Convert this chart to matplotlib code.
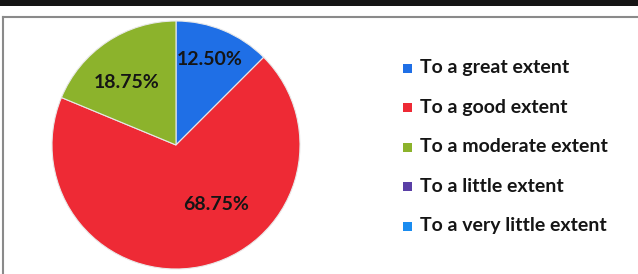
import matplotlib.pyplot as plt
from matplotlib.patches import Rectangle
from matplotlib.lines import Line2D

categories = ['To a great extent', 'To a good extent', 'To a moderate extent',
              'To a little extent', 'To a very little extent']
shares = [12.50, 68.75, 18.75, 0.0, 0.0]
colors = ['#1f6fe6', '#ee2a35', '#8cb32c', '#5a3fa6', '#1a8cf0']

W, H = 638, 274
fig = plt.figure(figsize=(W / 100, H / 100), dpi=100)
fig.patch.set_facecolor('white')

# scanned frame: dark band on top and a grey box
fig.add_artist(Rectangle((0, 1 - 6 / H), 1, 6 / H, transform=fig.transFigure,
                         facecolor='#151515', edgecolor='none'))
fig.add_artist(Line2D([3 / W, 1], [1 - 17 / H, 1 - 17 / H], transform=fig.transFigure,
                      color='#8a8a8a', lw=1.5))
fig.add_artist(Line2D([3 / W, 3 / W], [0, 1 - 17 / H], transform=fig.transFigure,
                      color='#8a8a8a', lw=1.5))

# pie: center (176, 145), radius 124 px
r = 124
ax = fig.add_axes([(176 - r) / W, (H - 145 - r) / H, 2 * r / W, 2 * r / H])
ax.set_aspect('equal')
ax.axis('off')

drawn = [(v, c) for v, c in zip(shares, colors) if v > 0]
wedges, _ = ax.pie([v for v, c in drawn], colors=[c for v, c in drawn],
                   startangle=90, counterclock=False, radius=1.0,
                   wedgeprops=dict(edgecolor='#e8e8e8', linewidth=0.8))
ax.set_xlim(-1, 1)
ax.set_ylim(-1, 1)

label_pos = [(0.27, 0.69), (0.32, -0.48), (-0.40, 0.50)]
for (v, c), (x, y) in zip(drawn, label_pos):
    ax.text(x, y, f'{v:.2f}%', ha='center', va='center', fontsize=14,
            fontweight='bold', family='Lato', color='#151515')

# legend
row0, step = 68, 39.5
for i, (name, c) in enumerate(zip(categories, colors)):
    yc = 1 - (row0 + i * step) / H
    fig.add_artist(Rectangle((403 / W, yc - 4.5 / H), 9 / W, 9 / H,
                             transform=fig.transFigure, facecolor=c, edgecolor='none'))
    fig.text(420 / W, yc, name, ha='left', va='center', fontsize=14,
             family='Lato', fontweight='bold', color='#151515')

fig.savefig('out.png', dpi=100)
